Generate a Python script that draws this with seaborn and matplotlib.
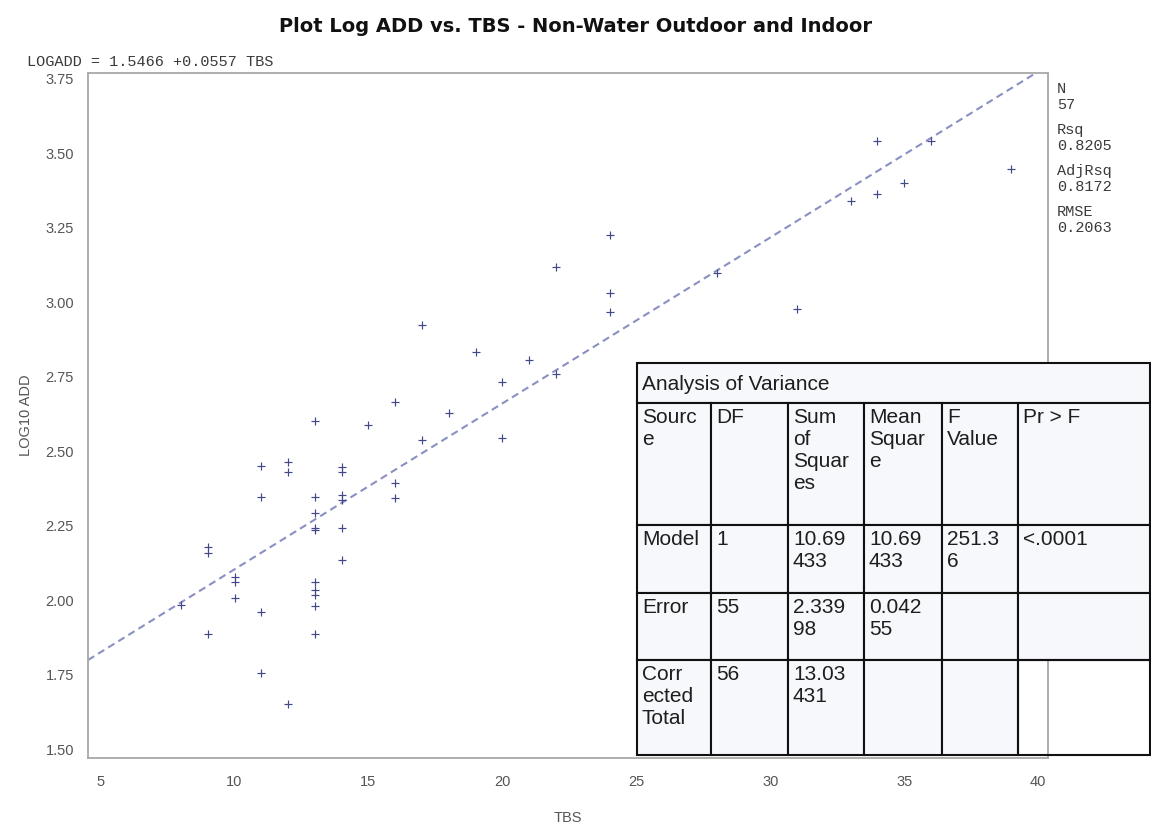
import matplotlib
matplotlib.use("Agg")
import matplotlib.pyplot as plt
import seaborn as sns
import pandas as pd
import numpy as np
from matplotlib.patches import Rectangle

# ---- data: TBS score vs log10 ADD ----
tbs = [8,
       9, 9, 9,
       10, 10, 10,
       11, 11, 11, 11,
       12, 12, 12,
       13, 13, 13, 13, 13, 13, 13, 13, 13, 13,
       14, 14, 14, 14, 14, 14,
       15,
       16, 16, 16,
       17, 17,
       18,
       19,
       20, 20,
       21,
       22, 22,
       24, 24, 24,
       28,
       31,
       33,
       34, 34,
       35,
       36,
       39]
log_add = [1.985,
           2.177, 2.159, 1.885,
           2.078, 2.061, 2.008,
           2.451, 2.347, 1.960, 1.754,
           2.463, 2.429, 1.651,
           2.603, 2.347, 2.294, 2.243, 2.235, 2.061, 2.033, 2.016, 1.979, 1.885,
           2.448, 2.431, 2.353, 2.336, 2.241, 2.136,
           2.588,
           2.665, 2.394, 2.342,
           2.925, 2.538,
           2.628,
           2.832,
           2.732, 2.545,
           2.807,
           3.118, 2.760,
           3.227, 3.032, 2.968,
           3.097,
           2.978,
           3.340,
           3.542, 3.363,
           3.402,
           3.542,
           3.449]

# fitted regression
intercept = 1.5466
slope = 0.0557

# fit statistics
stat_names = ["N", "Rsq", "AdjRsq", "RMSE"]
stat_values = ["57", "0.8205", "0.8172", "0.2063"]

# analysis of variance table
anova_title = "Analysis of Variance"
anova_header = ["Sourc\ne", "DF", "Sum\nof\nSquar\nes", "Mean\nSquar\ne", "F\nValue", "Pr > F"]
anova_rows = [
    ["Model", "1", "10.69\n433", "10.69\n433", "251.3\n6", "<.0001"],
    ["Error", "55", "2.339\n98", "0.042\n55", "", ""],
    ["Corr\nected\nTotal", "56", "13.03\n431", "", "", ""],
]

x_ticks = [5, 10, 15, 20, 25, 30, 35, 40]
y_ticks = [1.50, 1.75, 2.00, 2.25, 2.50, 2.75, 3.00, 3.25, 3.50, 3.75]
x_range = (4.53, 40.37)
y_range = (1.47, 3.77)

# ---- style ----
POINT = "#42478a"
FIT = "#8a90c2"
FRAME = "#a8a8a8"
TICKTXT = "#555555"
MONO = "#3a3a3a"
CELL = "#f7f8fc"

sns.set_theme(style="white")
plt.rcParams["font.family"] = ["Liberation Sans", "DejaVu Sans"]

W, H = 1151, 833
fig = plt.figure(figsize=(W / 100, H / 100), dpi=100)
fig.patch.set_facecolor("white")

L, R, T, B = 88, 1048, 73, 758
ax = fig.add_axes([L / W, 1 - B / H, (R - L) / W, (B - T) / H])

df = pd.DataFrame({"TBS": tbs, "LOG10 ADD": log_add})
sns.scatterplot(data=df, x="TBS", y="LOG10 ADD", marker="+", s=38,
                color=POINT, linewidth=0.85, ax=ax, zorder=3)

x_fit = np.array(x_range)
y_fit = intercept + slope * x_fit
sns.lineplot(x=x_fit, y=y_fit, ax=ax, color=FIT, linewidth=1.5,
             linestyle=(0, (3.5, 2.2)), zorder=2)

ax.set_xlim(*x_range)
ax.set_ylim(*y_range)
ax.set_xticks(x_ticks)
ax.set_xticklabels([str(v) for v in x_ticks])
ax.set_yticks(y_ticks)
ax.set_yticklabels([f"{v:.2f}" for v in y_ticks])
ax.tick_params(axis="both", direction="out", length=4, width=1, color=FRAME,
               labelsize=10.5, labelcolor=TICKTXT, pad=6)
ax.tick_params(axis="x", pad=8)
for sp in ax.spines.values():
    sp.set_visible(True)
    sp.set_color(FRAME)
    sp.set_linewidth(1.3)

ax.set_xlabel("TBS", fontsize=10.5, color=TICKTXT)
ax.set_ylabel("LOG10 ADD", fontsize=10.5, color=TICKTXT)
ax.xaxis.set_label_coords(0.5, -(811 - B) / (B - T))
ax.yaxis.set_label_coords(-(L - 33) / (R - L), 0.5)

# ---- title, equation, statistics ----
fig.text(0.5, 1 - 27 / H, "Plot Log ADD vs. TBS - Non-Water Outdoor and Indoor",
         ha="center", va="center", fontsize=14, fontweight="bold",
         family=["DejaVu Sans"], color="#111111")
fig.text(27 / W, 1 - 62 / H, f"LOGADD = {intercept:.4f} +{slope:.4f} TBS",
         ha="left", va="center", fontsize=11, family=["Liberation Mono"],
         color=MONO)
for i, (name, val) in enumerate(zip(stat_names, stat_values)):
    y0 = 89 + 41 * i
    fig.text(1057 / W, 1 - y0 / H, name, ha="left", va="center", fontsize=11,
             family=["Liberation Mono"], color=MONO)
    fig.text(1057 / W, 1 - (y0 + 16) / H, val, ha="left", va="center", fontsize=11,
             family=["Liberation Mono"], color=MONO)

# ---- ANOVA table drawn on a pixel-space overlay ----
tab = fig.add_axes([0, 0, 1, 1], zorder=5)
tab.set_xlim(0, W)
tab.set_ylim(H, 0)
tab.axis("off")

col_edges = [637, 711, 788, 864, 942, 1018, 1150]
row_edges = [363, 403, 525, 593, 660, 755]
EDGE = "#111111"
TXT = "#1e1e1e"

tab.add_patch(Rectangle((col_edges[0], row_edges[0]), col_edges[-1] - col_edges[0],
                        row_edges[1] - row_edges[0], facecolor=CELL,
                        edgecolor=EDGE, linewidth=1.5))
tab.text(col_edges[0] + 5, (row_edges[0] + row_edges[1]) / 2 + 1, anova_title,
         ha="left", va="center", fontsize=15, color=TXT)

rows = [anova_header] + anova_rows
for r, row in enumerate(rows):
    y0, y1 = row_edges[r + 1], row_edges[r + 2]
    for c, txt in enumerate(row):
        x0, x1 = col_edges[c], col_edges[c + 1]
        last = (r == len(rows) - 1 and c == len(row) - 1)
        tab.add_patch(Rectangle((x0, y0), x1 - x0, y1 - y0,
                                facecolor="none" if last else CELL,
                                edgecolor=EDGE, linewidth=1.5))
        if txt:
            tab.text(x0 + 5, y0 + 5, txt, ha="left", va="top", fontsize=15,
                     linespacing=1.2, color=TXT)

fig.savefig("out.png", dpi=100, facecolor="white")
